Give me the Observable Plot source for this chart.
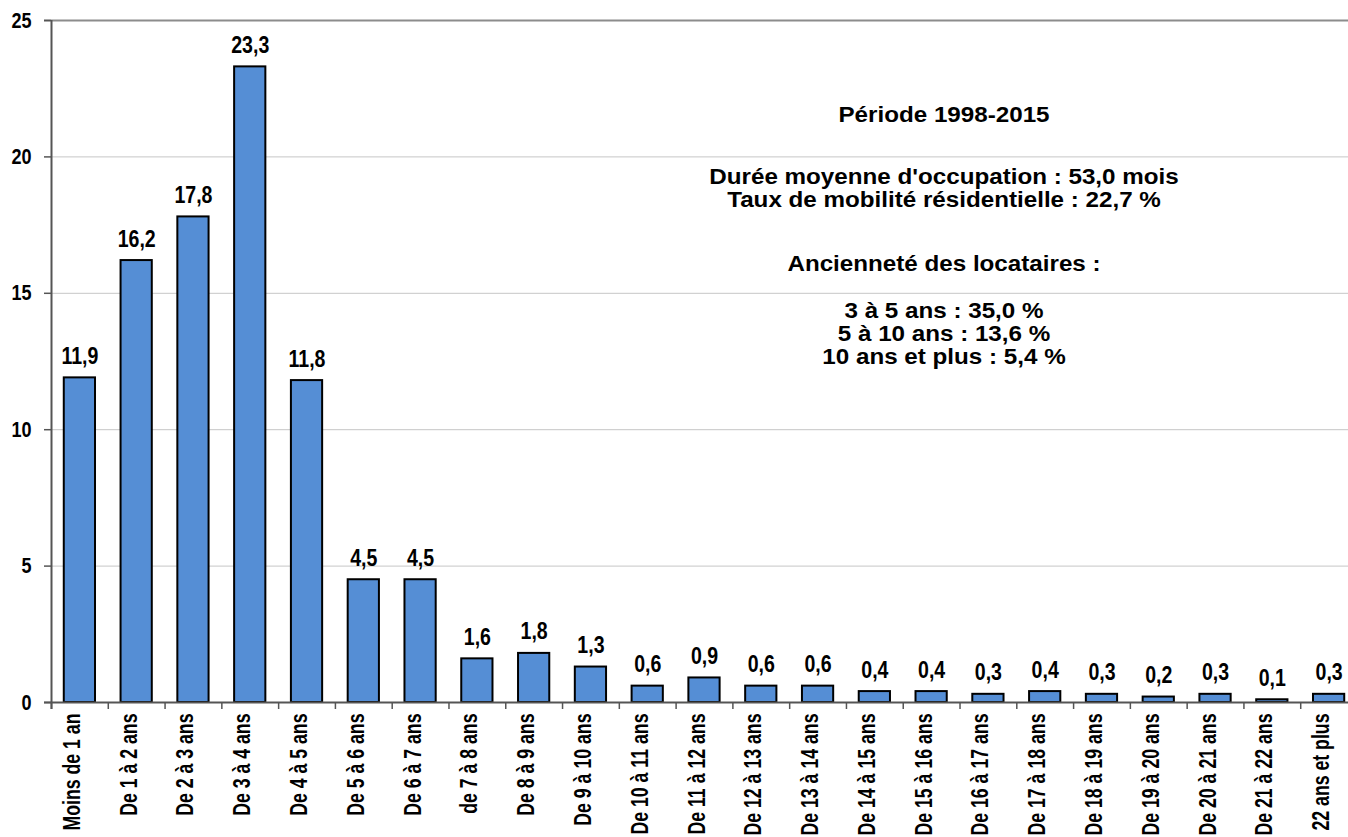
<!DOCTYPE html>
<html>
<head>
<meta charset="utf-8">
<script src="https://cdn.jsdelivr.net/npm/d3@7"></script>
<script src="https://cdn.jsdelivr.net/npm/@observablehq/plot@0.6"></script>
<style>
  body { margin: 0; background: #fff; }
  #chart svg { display: block; }
</style>
</head>
<body>
<div id="chart"></div>
<script>
// ---- data ----
const categories = [
  "Moins de 1 an", "De 1 à 2 ans", "De 2 à 3 ans", "De 3 à 4 ans", "De 4 à 5 ans",
  "De 5 à 6 ans", "De 6 à 7 ans", "de 7 à 8 ans", "De 8 à 9 ans", "De 9 à 10 ans",
  "De 10 à 11 ans", "De 11 à 12 ans", "De 12 à 13 ans", "De 13 à 14 ans", "De 14 à 15 ans",
  "De 15 à 16 ans", "De 16 à 17 ans", "De 17 à 18 ans", "De 18 à 19 ans", "De 19 à 20 ans",
  "De 20 à 21 ans", "De 21 à 22 ans", "22 ans et plus"
];
const shares = [11.9, 16.2, 17.8, 23.3, 11.8, 4.5, 4.5, 1.6, 1.8, 1.3, 0.6, 0.9, 0.6, 0.6, 0.4, 0.4, 0.3, 0.4, 0.3, 0.2, 0.3, 0.1, 0.3];
const yTicks = [0, 5, 10, 15, 20, 25];
const gridValues = [5, 10, 15, 20];
const infoTitle = "Période 1998-2015";
const infoStats = ["Durée moyenne d'occupation : 53,0 mois", "Taux de mobilité résidentielle : 22,7 %"];
const infoHeading = "Ancienneté des locataires :";
const seniority = ["3 à 5 ans : 35,0 %", "5 à 10 ans : 13,6 %", "10 ans et plus : 5,4 %"];

const data = categories.map((c, i) => ({category: c, share: shares[i]}));
const fmt = v => d3.format(".1f")(v).replace(".", ",");

// ---- layout ----
const W = 1348, H = 837, mL = 51, mT = 20, mB = 135;
const xRange = [mL, 1357];
const step = (xRange[1] - xRange[0]) / categories.length;
const font = "'Liberation Sans', Arial, Helvetica, sans-serif";
const axisColor = "#555";
const infoSize = 22;

const chart = Plot.plot({
  width: W, height: H,
  marginLeft: mL, marginRight: 0, marginTop: mT, marginBottom: mB,
  style: {fontFamily: font, background: "#fff", color: "#000"},
  x: {type: "band", domain: categories, range: xRange, round: false, paddingInner: 0.45, paddingOuter: 0.225, axis: null},
  y: {domain: [0, 25], axis: null},
  marks: [
    Plot.ruleY(gridValues, {y: d => d, stroke: "#c6c6c6", strokeWidth: 1}),
    Plot.barY(data, {x: "category", y: "share", fill: "#558ed5", stroke: "#000", strokeWidth: 2}),
    // top border line
    Plot.ruleY([25], {y: d => d, stroke: "#8c8c8c", strokeWidth: 2, insetLeft: -7}),
    // y tick marks
    Plot.ruleY(yTicks, {y: d => d, stroke: axisColor, strokeWidth: 1.5, insetLeft: -7, insetRight: W - mL}),
    // left axis
    Plot.ruleX([categories[0]], {x: d => d, dx: -step / 2, stroke: axisColor, strokeWidth: 2, insetBottom: -7}),
    // bottom category ticks
    Plot.ruleX(categories, {x: d => d, dx: -step / 2, y1: 0, y2: 0, insetBottom: -7, stroke: axisColor, strokeWidth: 1.5}),
    // baseline
    Plot.ruleY([0], {y: d => d, stroke: axisColor, strokeWidth: 2, insetLeft: -7}),
    // value labels
    Plot.text(data, {x: "category", y: "share", text: d => fmt(d.share), lineAnchor: "bottom", dy: -14,
      fontSize: 23, fontWeight: "bold", fill: "#000"}),
    // y tick labels
    Plot.text(yTicks, {y: d => d, text: d => String(d), frameAnchor: "left", textAnchor: "end", dx: -20,
      fontSize: 22, fontWeight: "bold", fill: "#000"}),
    // x tick labels
    Plot.text(categories, {x: d => d, text: d => d, frameAnchor: "bottom", rotate: -90, textAnchor: "end", dy: 11,
      fontSize: 23, fontWeight: "bold", fill: "#000"}),
    // info box
    Plot.text([infoTitle], {text: d => d, frameAnchor: "top", lineAnchor: "bottom", dx: 244, dy: 101,
      fontSize: infoSize, fontWeight: "bold", fill: "#000"}),
    Plot.text([infoStats.join("\n")], {text: d => d, frameAnchor: "top", lineAnchor: "bottom", dx: 244, dy: 186,
      lineHeight: 23 / infoSize, fontSize: infoSize, fontWeight: "bold", fill: "#000"}),
    Plot.text([infoHeading], {text: d => d, frameAnchor: "top", lineAnchor: "bottom", dx: 244, dy: 250,
      fontSize: infoSize, fontWeight: "bold", fill: "#000"}),
    Plot.text([seniority.join("\n")], {text: d => d, frameAnchor: "top", lineAnchor: "bottom", dx: 244, dy: 343,
      lineHeight: 23 / infoSize, fontSize: infoSize, fontWeight: "bold", fill: "#000"})
  ]
});

// horizontal glyph scaling to match the reference's typeface proportions
const xSet = new Set(categories);
const ySet = new Set(yTicks.map(String));
const vSet = new Set(shares.map(fmt));
chart.querySelectorAll("text").forEach(t => {
  const s = t.textContent;
  let k = 1.1;
  if (xSet.has(s)) k = 0.77;
  else if (ySet.has(s)) k = 0.82;
  else if (vSet.has(s)) k = 0.85;
  let tr = t.getAttribute("transform");
  if (!tr) {
    const x = t.getAttribute("x");
    if (x != null && !isNaN(+x)) { tr = `translate(${x},0)`; t.removeAttribute("x"); }
    else tr = "";
  }
  t.setAttribute("transform", `${tr} scale(${k},1)`);
});

document.getElementById("chart").appendChild(chart);
</script>
</body>
</html>
